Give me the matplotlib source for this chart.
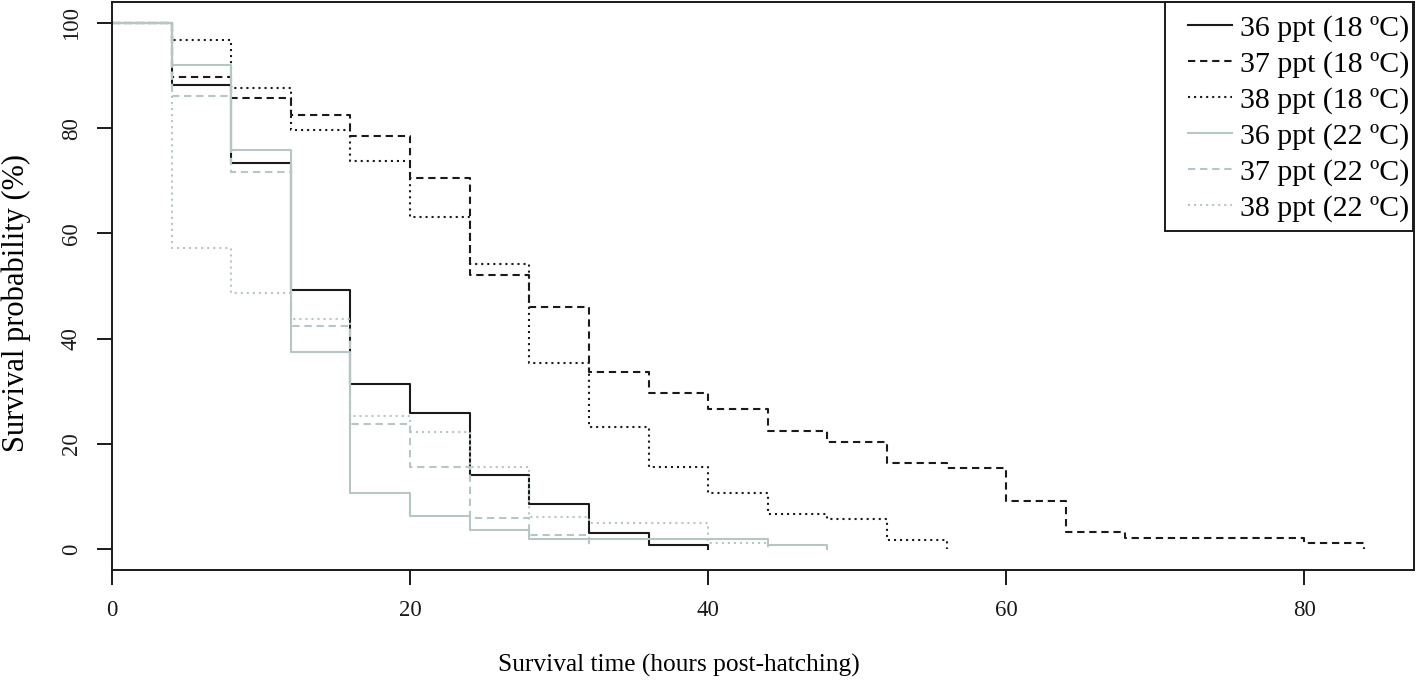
import matplotlib
matplotlib.use("Agg")
import matplotlib.pyplot as plt
from matplotlib.patches import Rectangle
import numpy as np

plt.rcParams['font.family'] = ['Liberation Serif', 'DejaVu Serif']

step = 4  # hours between observations
s36_18 = [100, 88.3, 73.4, 49.2, 31.4, 25.8, 14.1, 8.6, 3.1, 0.7]
s37_18 = [100, 89.8, 85.7, 82.6, 78.5, 70.5, 52.1, 46.0, 33.7, 29.6, 26.6,
          22.5, 20.4, 16.4, 15.3, 9.2, 3.2, 2.0, 2.0, 2.0, 1.1]
s38_18 = [100, 96.8, 87.7, 79.7, 73.8, 63.1, 54.1, 35.3, 23.1, 15.6, 10.7,
          6.6, 5.7, 1.7]
s36_22 = [100, 92.0, 75.9, 37.5, 10.7, 6.3, 3.6, 1.8, 1.8, 1.8, 1.8, 0.8]
s37_22 = [100, 86.1, 71.6, 42.3, 23.7, 15.5, 5.8, 2.6]
s38_22 = [100, 57.3, 48.6, 43.7, 25.3, 22.3, 15.5, 6.0, 5.0, 5.0, 1.1]

labels = ["36 ppt (18 ºC)", "37 ppt (18 ºC)", "38 ppt (18 ºC)",
          "36 ppt (22 ºC)", "37 ppt (22 ºC)", "38 ppt (22 ºC)"]
series = [s36_18, s37_18, s38_18, s36_22, s37_22, s38_22]

xticks = [0, 20, 40, 60, 80]
yticks = [0, 20, 40, 60, 80, 100]

black = '#1a1a1a'
gray = '#b5c6c4'
colors = [black, black, black, gray, gray, gray]
dash_pat = (3.5, 2.3)
dot_pat = (1.0, 1.9)
dashes = [None, dash_pat, dot_pat, None, dash_pat, dot_pat]

W, H = 1418, 690
fig = plt.figure(figsize=(W / 100, H / 100), dpi=100)
ax = fig.add_axes([112 / W, 1 - 570 / H, (1414 - 112) / W, (570 - 2) / H])

lw = 1.5
handles = []
for vals, lab, c, d in zip(series, labels, colors, dashes):
    t = np.arange(len(vals) + 1) * step
    y = list(vals) + [0]
    line, = ax.step(t, y, where='post', color=c, lw=lw, label=lab)
    if d is not None:
        line.set_dashes(d)
    handles.append(line)

ax.set_xlim(0, 87.36)
ax.set_ylim(-4, 104)
ax.set_xticks(xticks)
ax.set_yticks(yticks)
ax.tick_params(axis='both', direction='out', length=10.8, width=1.4,
               colors=black, labelsize=16.5)
ax.tick_params(axis='x', pad=11)
ax.tick_params(axis='y', pad=11)
for lbl in ax.get_yticklabels():
    lbl.set_rotation(90)
    lbl.set_va('center')
for sp in ax.spines.values():
    sp.set_linewidth(1.4)
    sp.set_color(black)

ax.set_xlabel("Survival time (hours post-hatching)", fontsize=18.3)
ax.xaxis.set_label_coords((679 - 112) / 1302, (570 - 665) / 568)
ax.xaxis.label.set_va('center')
ax.set_ylabel("Survival probability (%)", fontsize=22)
ax.yaxis.set_label_coords((16 - 112) / 1302, (570 - 303) / 568)
ax.yaxis.label.set_va('center')

# legend frame
frame = Rectangle((1165 / W, 1 - 231 / H), (1413 - 1165) / W, (231 - 2) / H,
                  transform=fig.transFigure, facecolor='white',
                  edgecolor=black, lw=1.4, zorder=4, clip_on=False)
ax.add_patch(frame)

leg = ax.legend(handles=handles, loc='upper right',
                bbox_to_anchor=(1409 / W, 1 - 15 / H),
                bbox_transform=fig.transFigure, borderaxespad=0,
                borderpad=0, fontsize=21.5, frameon=False,
                handlelength=1.47, handletextpad=0.27, labelspacing=0.29)
leg.set_zorder(6)

fig.savefig("out.png", dpi=100)
